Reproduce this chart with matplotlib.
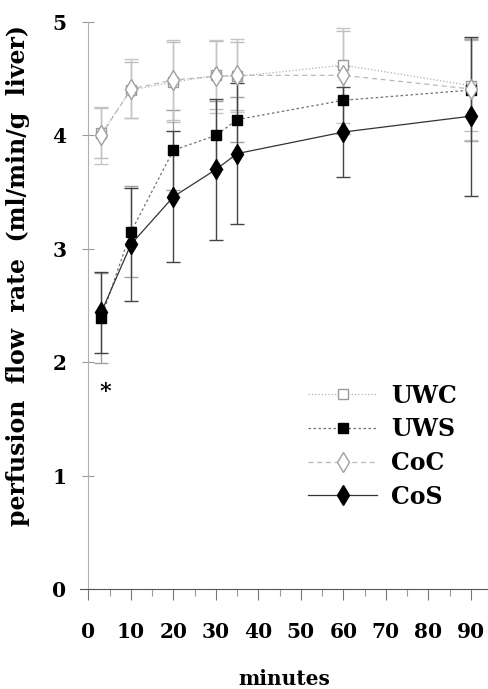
import matplotlib
matplotlib.use('Agg')
import matplotlib.pyplot as plt
from matplotlib.lines import Line2D
from matplotlib.ticker import MultipleLocator

times = [3, 10, 20, 30, 35, 60, 90]

uwc = [4.02, 4.40, 4.47, 4.53, 4.52, 4.62, 4.44]
uwc_err = [0.22, 0.25, 0.35, 0.30, 0.30, 0.30, 0.40]
uws = [2.39, 3.15, 3.87, 4.00, 4.14, 4.31, 4.40]
uws_err = [0.40, 0.40, 0.35, 0.30, 0.20, 0.30, 0.45]
coc = [4.00, 4.41, 4.49, 4.52, 4.53, 4.53, 4.41]
coc_err = [0.25, 0.26, 0.35, 0.32, 0.32, 0.42, 0.45]
cos_ = [2.44, 3.04, 3.46, 3.70, 3.84, 4.03, 4.17]
cos_err = [0.36, 0.50, 0.58, 0.62, 0.62, 0.40, 0.70]

xticks = [0, 10, 20, 30, 40, 50, 60, 70, 80, 90]
yticks = [0, 1, 2, 3, 4, 5]

plt.rcParams['font.family'] = ['DejaVu Serif']
plt.rcParams['font.weight'] = 'bold'

fig = plt.figure(figsize=(4.89, 6.89), dpi=100)
ax = fig.add_axes([0.1636, 0.1451, 0.834, 0.8229])

series = [
    ('UWC', uwc, uwc_err, dict(marker='s', mfc='white', mec='#9a9a9a', color='#b0b0b0',
                               ls=':', ms=7.5), '#bdbdbd'),
    ('UWS', uws, uws_err, dict(marker='s', mfc='black', mec='black', color='#707070',
                               ls=(0, (2, 2)), ms=7.5), '#a0a0a0'),
    ('CoC', coc, coc_err, dict(marker='d', mfc='white', mec='#a0a0a0', color='#b8b8b8',
                               ls=(0, (4, 3)), ms=10), '#c4c4c4'),
    ('CoS', cos_, cos_err, dict(marker='d', mfc='black', mec='black', color='#333333',
                                ls='-', ms=10), '#444444'),
]

handles = []
for name, vals, errs, st, ecol in series:
    ax.errorbar(times, vals, yerr=errs, capsize=5, elinewidth=1.0, capthick=1.0,
                ecolor=ecol, lw=0.9, **st)
    handles.append(Line2D([], [], lw=0.9, label=name, **st))

ax.text(4, 1.74, '*', fontsize=16, ha='center', va='center')

ax.set_xlim(-2, 94)
ax.set_ylim(0, 5)
ax.xaxis.set_ticks(xticks)
ax.yaxis.set_ticks(yticks)
ax.xaxis.set_minor_locator(MultipleLocator(5))

for s in ['top', 'right']:
    ax.spines[s].set_visible(False)
ax.spines['left'].set_position(('data', 0))
ax.spines['left'].set_color('#b0b0b0')
ax.spines['left'].set_linewidth(0.8)
ax.spines['bottom'].set_color('#555555')
ax.spines['bottom'].set_linewidth(0.8)

ax.tick_params(axis='x', which='major', direction='out', length=8, width=0.8,
               color='#777777', labelsize=14.5, pad=16)
ax.tick_params(axis='x', which='minor', direction='out', length=5, width=0.8,
               color='#999999')
ax.tick_params(axis='y', which='major', direction='inout', length=8, width=0.8,
               color='#999999', labelsize=14.5, pad=12)

ax.set_xlabel('minutes', fontsize=14.5, fontweight='bold', labelpad=19)
fig.text(0.037, 0.60, 'perfusion  flow  rate  (ml/min/g  liver)', rotation=90,
         fontsize=17, fontweight='bold', ha='center', va='center')

ax.legend(handles=handles, loc='center left', bbox_to_anchor=(0.56, 0.252),
          frameon=False, fontsize=17, handlelength=2.9, handletextpad=0.6,
          labelspacing=0.41, borderpad=0, borderaxespad=0)

plt.savefig('out.png', dpi=100)
